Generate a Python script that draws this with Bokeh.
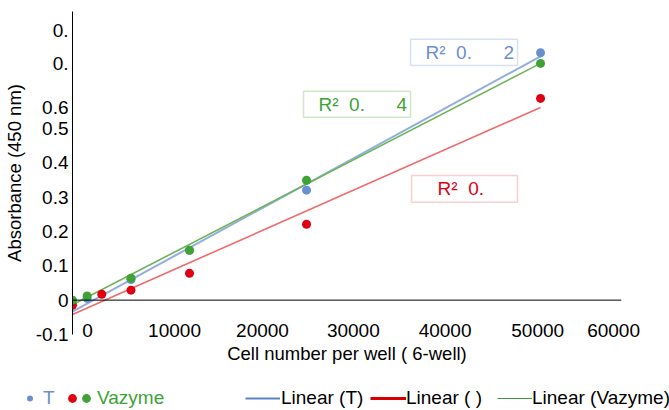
import numpy as np
from bokeh.plotting import figure
from bokeh.layouts import column, row
from bokeh.models import (Range1d, FixedTicker, Span, Legend, LegendItem,
                          BoxAnnotation, Label)
from bokeh.embed import file_html
from bokeh.resources import INLINE

# ---------------- data ----------------
t_name = "T"
t_x = [1562.5, 6250, 12500, 25000, 50000]
t_y = [0.005, 0.060, 0.145, 0.320, 0.720]

r_name = " "
r_x = [0, 3125, 6250, 12500, 25000, 50000]
r_y = [-0.015, 0.017, 0.029, 0.078, 0.221, 0.587]

v_name = "Vazyme"
v_x = [0, 1562.5, 6250, 12500, 25000, 50000]
v_y = [0.000, 0.012, 0.064, 0.145, 0.349, 0.689]

x_tick_pos = [1600, 10900, 20300, 30000, 39800, 49700, 57800]
x_tick_labels = ["0", "10000", "20000", "30000", "40000", "50000", "60000"]
y_tick_pos = [-0.1, 0, 0.1, 0.2, 0.3, 0.4, 0.5, 0.56, 0.69, 0.785]
y_tick_labels = ["-0.1", "0", "0.1", "0.2", "0.3", "0.4", "0.5", "0.6", "0.", "0."]

NB = "\u00a0"
r2_t = "R²" + NB * 2 + "0." + NB * 6 + "2"
r2_v = "R²" + NB * 2 + "0." + NB * 6 + "4"
r2_r = "R²" + NB * 2 + "0."

FONT = "Liberation Sans"

BLUE = "#6a8fd0"
RED = "#e00012"
GREEN = "#3ea236"
LEG_BLUE = "#5b83c7"
LEG_RED = "#d60000"
LEG_GREEN = "#3e9a3e"

W = 669
H_MAIN = 380
H_LEG = 30

p = figure(width=W, height=H_MAIN, output_backend="svg", toolbar_location=None,
           x_range=Range1d(0, 58650), y_range=Range1d(-0.1, 0.84),
           min_border_left=72, min_border_right=48, min_border_top=11,
           min_border_bottom=46)
p.outline_line_color = None
p.grid.visible = False
p.background_fill_color = "white"

# axes
p.xaxis.ticker = FixedTicker(ticks=x_tick_pos)
p.xaxis.major_label_overrides = dict(zip(x_tick_pos, x_tick_labels))
p.yaxis.ticker = FixedTicker(ticks=y_tick_pos)
p.yaxis.major_label_overrides = dict(zip(y_tick_pos, y_tick_labels))
for ax in (p.xaxis, p.yaxis):
    ax.major_tick_line_color = None
    ax.minor_tick_line_color = None
    ax.major_tick_out = 0
    ax.major_tick_in = 0
    ax.minor_tick_out = 0
    ax.minor_tick_in = 0
    ax.major_label_text_font = FONT
    ax.major_label_text_font_size = "19px"
    ax.major_label_text_color = "black"
    ax.axis_label_text_font = FONT
    ax.axis_label_text_font_size = "18.5px"
    ax.axis_label_text_font_style = "normal"
    ax.axis_label_text_color = "black"
p.xaxis.axis_line_color = None
p.xaxis.major_label_standoff = -11
p.xaxis.axis_label = "Cell number per well ( 6-well)"
p.xaxis.axis_label_standoff = 3
p.yaxis.axis_line_color = "black"
p.yaxis.axis_line_width = 1
p.yaxis.major_label_standoff = 4
p.yaxis.axis_label = "Absorbance (450 nm)"
p.yaxis.axis_label_standoff = 8

p.add_layout(Span(location=0, dimension="width", line_color="black", line_width=1))

# trend lines (least squares fit of each series)
x_lo = min(min(t_x), min(r_x), min(v_x))
x_hi = max(max(t_x), max(r_x), max(v_x))
def trend(xs, ys):
    k, b = np.polyfit(xs, ys, 1)
    ex = np.array([x_lo, x_hi], dtype=float)
    return ex, k * ex + b

ex, ey = trend(t_x, t_y)
p.line(ex, ey, line_color="#93aedd", line_width=2)
ex, ey = trend(v_x, v_y)
p.line(ex, ey, line_color="#6db455", line_width=1.6)
ex, ey = trend(r_x, r_y)
p.line(ex, ey, line_color="#ef6b6b", line_width=1.6)

# points
p.scatter(r_x, r_y, size=9, fill_color=RED, line_color=None)
p.scatter(t_x, t_y, size=9, fill_color=BLUE, line_color=None)
p.scatter(v_x, v_y, size=9, fill_color=GREEN, line_color=None)

# R-squared boxes
def r2_box(left, right, bottom, top, color, tx, ty, text, tcolor):
    p.add_layout(BoxAnnotation(left=left, right=right, bottom=bottom, top=top,
                               fill_alpha=0, line_color=color, line_width=1.5))
    p.add_layout(Label(x=tx, y=ty, text=text, text_font=FONT,
                       text_font_size="19px", text_color=tcolor,
                       text_baseline="middle", text_align="left"))

r2_box(36110, 47540, 0.683, 0.759, "#7b9bd3", 37710, 0.721, r2_t, BLUE)
r2_box(24680, 36110, 0.532, 0.6076, "#63ae4c", 26280, 0.570, r2_v, GREEN)
r2_box(36220, 47540, 0.285, 0.363, "#e0606a", 39000, 0.326, r2_r, RED)

# ---------------- legend strip below the chart ----------------
# the series are drawn again here outside the visible ranges, only so that
# the legend can render their glyphs
q = figure(width=W, height=H_LEG, output_backend="svg", toolbar_location=None,
           x_range=Range1d(-2, -1), y_range=Range1d(-2, -1),
           min_border_left=0, min_border_right=0, min_border_top=0,
           min_border_bottom=0)
q.axis.visible = False
q.grid.visible = False
q.outline_line_color = None

st = q.scatter(t_x, t_y, fill_color=BLUE, line_color=None)
sr = q.scatter(r_x, r_y, fill_color=RED, line_color=None)
sv = q.scatter(v_x, v_y, fill_color=GREEN, line_color=None)
lt = q.line(t_x, t_y, line_color=LEG_BLUE, line_width=2)
lr = q.line(r_x, r_y, line_color=LEG_RED, line_width=3)
lv = q.line(v_x, v_y, line_color=LEG_GREEN, line_width=1)

LEG_Y = 1
def add_legend(label, rend, vx, gw, color, standoff):
    leg = Legend(items=[LegendItem(label=label, renderers=[rend])],
                 location=(vx, LEG_Y), orientation="horizontal",
                 glyph_width=gw, glyph_height=22, label_height=22,
                 label_standoff=standoff, label_text_font=FONT,
                 label_text_font_size="19px", label_text_color=color,
                 padding=0, margin=0, spacing=0, border_line_color=None,
                 background_fill_alpha=0)
    q.add_layout(leg, "center")

add_legend(t_name, st, 22, 15, BLUE, 6)
add_legend(r_name, sr, 61, 22, RED, 0)
add_legend(v_name, sv, 75, 22, GREEN, 0)
add_legend("Linear (" + t_name + ")", lt, 245, 35, "black", 1)
add_legend("Linear (" + r_name + ")", lr, 370, 36, "black", 0)
add_legend("Linear (" + v_name + ")", lv, 497, 35, "black", 0)

layout = column(p, row(q), spacing=0)
open("out.html", "w").write(file_html(layout, INLINE))
